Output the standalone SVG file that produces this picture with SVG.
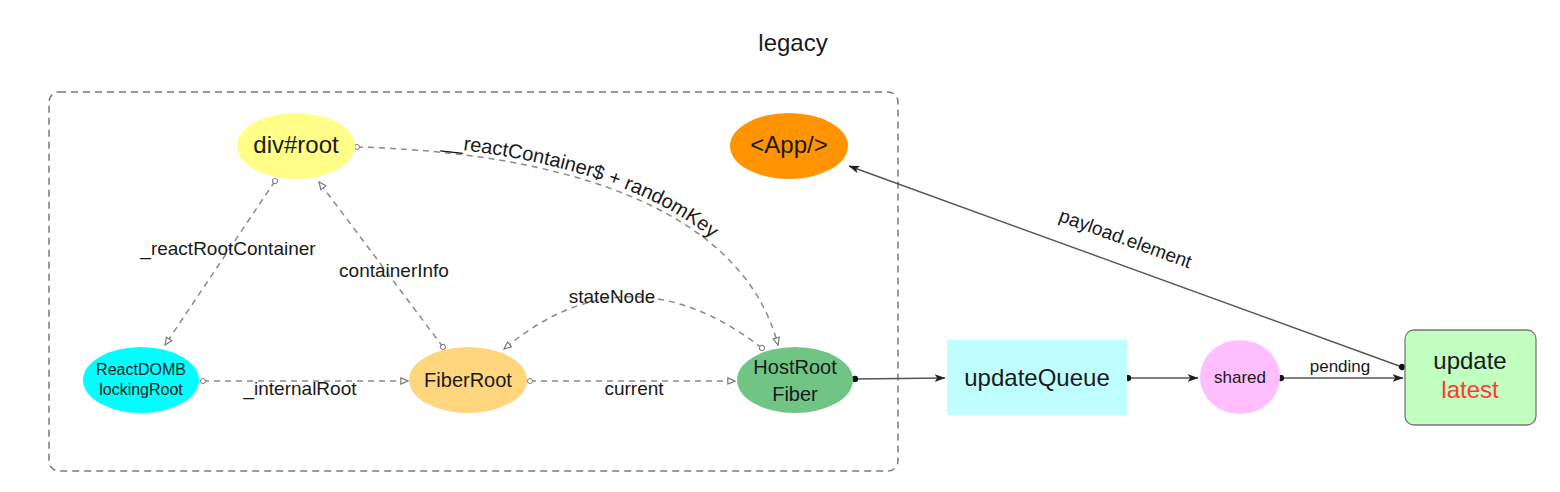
<svg xmlns="http://www.w3.org/2000/svg" width="1560" height="492" viewBox="0 0 1560 492">
<style>
text{font-family:"Liberation Sans",Arial,sans-serif;fill:#1a1a1a;text-anchor:middle}
.dash{fill:none;stroke:#8a8a8a;stroke-width:1.5;stroke-dasharray:6 5}
.solid{fill:none;stroke:#555;stroke-width:1.4}
.el{font-size:19px}
.frame{fill:none;stroke:#7a7a7a;stroke-width:1.5;stroke-dasharray:7 5}
</style>
<defs>
<marker id="oc" viewBox="0 0 10 10" refX="5" refY="5" markerWidth="7" markerHeight="7" markerUnits="userSpaceOnUse" orient="auto">
<circle cx="5" cy="5" r="3.6" fill="#fff" stroke="#777" stroke-width="1.4"/>
</marker>
<marker id="ot" viewBox="0 0 10 10" refX="9" refY="5" markerWidth="9" markerHeight="9" markerUnits="userSpaceOnUse" orient="auto">
<path d="M1,1.5 L9,5 L1,8.5 Z" fill="#fff" stroke="#777" stroke-width="1.3"/>
</marker>
<marker id="dot" viewBox="0 0 10 10" refX="5" refY="5" markerWidth="7" markerHeight="7" markerUnits="userSpaceOnUse" orient="auto">
<circle cx="5" cy="5" r="4.5" fill="#111"/>
</marker>
<marker id="fa" viewBox="0 0 10 10" refX="9.5" refY="5" markerWidth="11" markerHeight="11" markerUnits="userSpaceOnUse" orient="auto">
<path d="M0,1.5 L10,5 L0,8.5 L2.5,5 Z" fill="#222"/>
</marker>
<path id="lblPath" d="M357,142 C548,148 742,196 779,341"/>
</defs>
<rect width="1560" height="492" fill="#fff"/>
<text x="793" y="51" style="font-size:24px">legacy</text>
<rect class="frame" x="49" y="92" width="849" height="379" rx="10"/>

<g id="connectors">
<path class="dash" d="M275,181 L165,345" marker-start="url(#oc)" marker-end="url(#ot)"/>
<text class="el" x="228" y="255">_reactRootContainer</text>
<path class="dash" d="M443,347 L319,182" marker-start="url(#oc)" marker-end="url(#ot)"/>
<text class="el" x="394" y="277">containerInfo</text>
<path class="dash" d="M203,381 L408,381" marker-start="url(#oc)" marker-end="url(#ot)"/>
<text class="el" x="300" y="395">_internalRoot</text>
<path class="dash" d="M530,381 L735,381" marker-start="url(#oc)" marker-end="url(#ot)"/>
<text class="el" x="634" y="395">current</text>
<path class="dash" d="M762,348 Q628,245 504,349" marker-start="url(#oc)" marker-end="url(#ot)"/>
<text class="el" x="612" y="303">stateNode</text>
<path class="dash" d="M357,147 C545,152 740,200 778,345" marker-start="url(#oc)" marker-end="url(#ot)"/>
<text style="font-size:20px;text-anchor:start"><textPath href="#lblPath" startOffset="84">__reactContainer$ + randomKey</textPath></text>
<path class="solid" d="M855,379 L945,378" marker-start="url(#dot)" marker-end="url(#fa)"/>
<path class="solid" d="M1128,378 L1198,378" marker-start="url(#dot)" marker-end="url(#fa)"/>
<path class="solid" d="M1281,378 L1403,378" marker-start="url(#dot)" marker-end="url(#fa)"/>
<text x="1340" y="372" style="font-size:17px">pending</text>
<path class="solid" d="M1402,367 L849,166" marker-start="url(#dot)" marker-end="url(#fa)"/>
<text class="el" x="1125" y="245" transform="rotate(20 1125 240)">payload.element</text>
</g>

<g id="divroot"><ellipse cx="296" cy="146" rx="59" ry="33" fill="#ffff88"/><text x="296" y="153" style="font-size:24px">div#root</text></g>
<g id="app"><ellipse cx="789" cy="146" rx="59" ry="33" fill="#ff9400"/><text x="789" y="153" style="font-size:24px">&lt;App/&gt;</text></g>
<g id="reactdomblockingroot"><ellipse cx="141" cy="380" rx="58" ry="33" fill="#00ffff"/><text x="141" y="375" style="font-size:16px">ReactDOMB</text><text x="141" y="395" style="font-size:16px">lockingRoot</text></g>
<g id="fiberroot"><ellipse cx="468" cy="380" rx="59" ry="33" fill="#ffd57e"/><text x="468" y="387" style="font-size:20px">FiberRoot</text></g>
<g id="hostrootfiber"><ellipse cx="795" cy="380" rx="58" ry="33" fill="#70c585"/><text x="795" y="374" style="font-size:20px">HostRoot</text><text x="795" y="401" style="font-size:20px">Fiber</text></g>
<g id="updatequeue"><rect x="947" y="340" width="180" height="75" fill="#bfffff"/><text x="1037" y="386" style="font-size:24px">updateQueue</text></g>
<g id="shared"><ellipse cx="1240" cy="377" rx="40" ry="37" fill="#ffbfff"/><text x="1240" y="383" style="font-size:17px">shared</text></g>
<g id="update"><rect x="1405" y="330" width="131" height="95" rx="9" fill="#c0ffc0" stroke="#777" stroke-width="1.3"/><text x="1470" y="369" style="font-size:24px">update</text><text x="1470" y="398" style="font-size:24px;fill:#ff3b30">latest</text></g>
</svg>
